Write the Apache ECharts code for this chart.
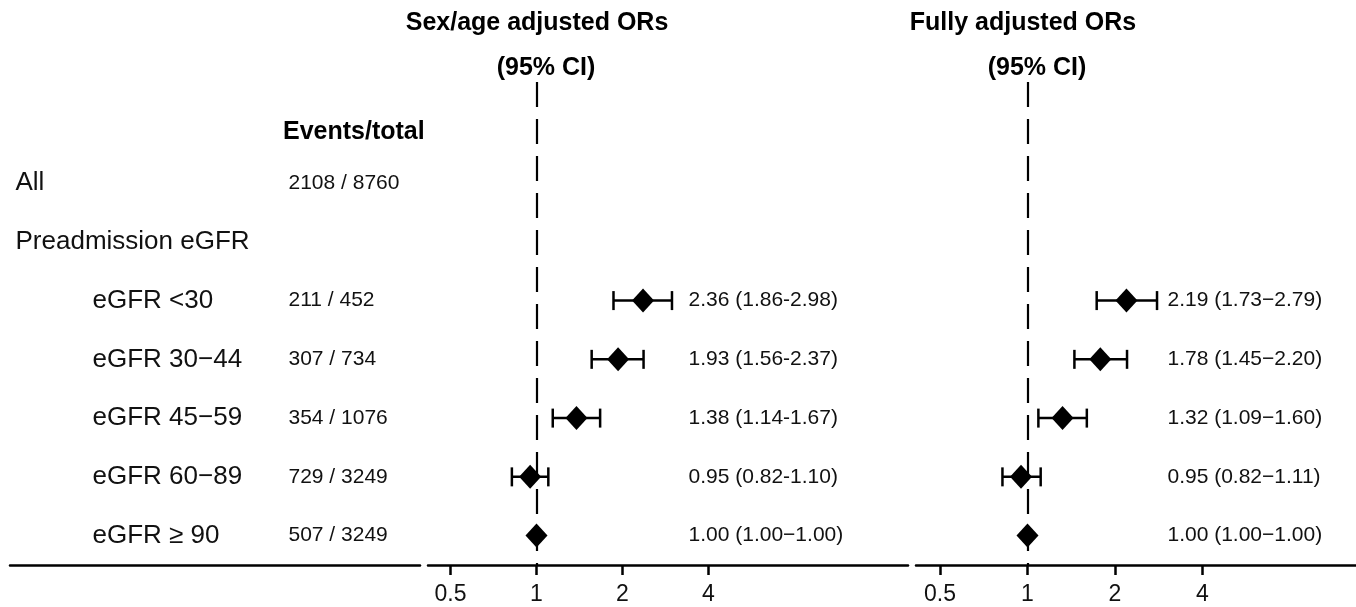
<!DOCTYPE html>
<html>
<head>
<meta charset="utf-8">
<script src="https://cdn.jsdelivr.net/npm/echarts@6/dist/echarts.min.js"></script>
<style>
  html, body { margin: 0; padding: 0; background: #fff; }
  #chart { width: 1356px; height: 607px; }
</style>
</head>
<body>
<div id="chart"></div>
<script>
// rows, top to bottom
var rowLabels = ['All', 'Preadmission eGFR', 'eGFR <30', 'eGFR 30\u221244', 'eGFR 45\u221259', 'eGFR 60\u221289', 'eGFR \u2265 90'];
var rowIndent = [0, 0, 1, 1, 1, 1, 1];
var events = ['2108 / 8760', '', '211 / 452', '307 / 734', '354 / 1076', '729 / 3249', '507 / 3249'];

// sex/age adjusted ORs
var orAge = [null, null, 2.36, 1.93, 1.38, 0.95, 1.00];
var loAge = [null, null, 1.86, 1.56, 1.14, 0.82, 1.00];
var hiAge = [null, null, 2.98, 2.37, 1.67, 1.10, 1.00];
var txtAge = ['', '', '2.36 (1.86-2.98)', '1.93 (1.56-2.37)', '1.38 (1.14-1.67)', '0.95 (0.82-1.10)', '1.00 (1.00\u22121.00)'];

// fully adjusted ORs
var orFull = [null, null, 2.19, 1.78, 1.32, 0.95, 1.00];
var loFull = [null, null, 1.73, 1.45, 1.09, 0.82, 1.00];
var hiFull = [null, null, 2.79, 2.20, 1.60, 1.11, 1.00];
var txtFull = ['', '', '2.19 (1.73\u22122.79)', '1.78 (1.45\u22122.20)', '1.32 (1.09\u22121.60)', '0.95 (0.82\u22121.11)', '1.00 (1.00\u22121.00)'];

var tickVals = [0.5, 1, 2, 4];

var FONT = '"Liberation Sans", Arial, sans-serif';
var chart = echarts.init(document.getElementById('chart'));

function log2(v) { return Math.log(v) / Math.LN2; }

var yAx = function (gi) {
  return { gridIndex: gi, type: 'value', inverse: true, min: -1.72, max: 6.5, show: false };
};

function plotAxis(gi, min, max) {
  return {
    gridIndex: gi, type: 'value', min: min, max: max,
    axisLine: { show: true, onZero: false, lineStyle: { color: '#000', width: 2.5 } },
    axisTick: { show: true, length: 10, lineStyle: { color: '#000', width: 2.5 },
      customValues: tickVals.map(log2) },
    axisLabel: { show: true, margin: 18, color: '#111', fontSize: 23, fontFamily: FONT,
      customValues: tickVals.map(log2),
      formatter: function (v) { return String(Math.round(Math.pow(2, v) * 100) / 100); } },
    splitLine: { show: false }
  };
}

function textSeries(gi, x, texts, size) {
  return {
    type: 'scatter', xAxisIndex: gi, yAxisIndex: gi, silent: true,
    symbolSize: 1, itemStyle: { color: 'rgba(255,255,255,0)', opacity: 1 },
    data: texts.map(function (t, i) { return [typeof x === 'function' ? x(i) : x, i]; }),
    label: {
      show: true, position: 'right', distance: 0, color: '#111', opacity: 1,
      fontSize: size, fontFamily: FONT,
      formatter: function (p) { return texts[p.dataIndex]; }
    }
  };
}

function ciSeries(gi, lo, hi) {
  var data = [];
  lo.forEach(function (v, i) { if (v != null) data.push([log2(v), log2(hi[i]), i]); });
  return {
    type: 'custom', xAxisIndex: gi, yAxisIndex: gi, silent: true, z: 2,
    data: data,
    renderItem: function (params, api) {
      var a = api.coord([api.value(0), api.value(2)]);
      var b = api.coord([api.value(1), api.value(2)]);
      var h = 9.5, st = { stroke: '#000', lineWidth: 2.5 };
      return { type: 'group', children: [
        { type: 'line', shape: { x1: a[0], y1: a[1], x2: b[0], y2: b[1] }, style: st },
        { type: 'line', shape: { x1: a[0], y1: a[1] - h, x2: a[0], y2: a[1] + h }, style: st },
        { type: 'line', shape: { x1: b[0], y1: b[1] - h, x2: b[0], y2: b[1] + h }, style: st }
      ] };
    },
    markLine: {
      silent: true, symbol: 'none', label: { show: false },
      lineStyle: { color: '#000', width: 2.2, type: [25, 12], opacity: 1 },
      data: [{ xAxis: 0 }]
    }
  };
}

function pointSeries(gi, or) {
  var data = [];
  or.forEach(function (v, i) { if (v != null) data.push([log2(v), i]); });
  return {
    type: 'scatter', xAxisIndex: gi, yAxisIndex: gi, silent: true, z: 3,
    symbol: 'diamond', symbolSize: [22, 24], itemStyle: { color: '#000', opacity: 1 },
    data: data
  };
}

var headStyle = { fontFamily: FONT, fontSize: 25, fontWeight: 'bold', color: '#000', lineHeight: 30 };

var option = {
  backgroundColor: '#fff',
  animation: false,
  title: [
    { text: 'Sex/age adjusted ORs', left: 537, top: 8, textAlign: 'center', padding: 0, textStyle: headStyle },
    { text: '(95% CI)', left: 546, top: 53, textAlign: 'center', padding: 0, textStyle: headStyle },
    { text: 'Fully adjusted ORs', left: 1023, top: 8, textAlign: 'center', padding: 0, textStyle: headStyle },
    { text: '(95% CI)', left: 1037, top: 53, textAlign: 'center', padding: 0, textStyle: headStyle },
    { text: 'Events/total', left: 283, top: 117, padding: 0, textStyle: headStyle }
  ],
  grid: [
    { left: 10, width: 410, top: 82, bottom: 42 },
    { left: 428, width: 480, top: 82, bottom: 42 },
    { left: 916, right: 0, top: 82, bottom: 42 }
  ],
  xAxis: [
    { gridIndex: 0, type: 'value', min: 0, max: 410,
      axisLine: { show: true, onZero: false, lineStyle: { color: '#000', width: 2.5 } },
      axisTick: { show: false }, axisLabel: { show: false }, splitLine: { show: false } },
    plotAxis(1, -1.2616, 4.3198),
    plotAxis(2, -1.2743, 3.7543)
  ],
  yAxis: [yAx(0), yAx(1), yAx(2)],
  series: [
    textSeries(0, function (i) { return rowIndent[i] ? 82 : 5; }, rowLabels, 26),
    textSeries(0, 278, events, 21),
    ciSeries(1, loAge, hiAge),
    pointSeries(1, orAge),
    textSeries(1, 1.762, txtAge, 21),
    ciSeries(2, loFull, hiFull),
    pointSeries(2, orFull),
    textSeries(2, 1.594, txtFull, 21)
  ]
};
chart.setOption(option);
</script>
</body>
</html>
